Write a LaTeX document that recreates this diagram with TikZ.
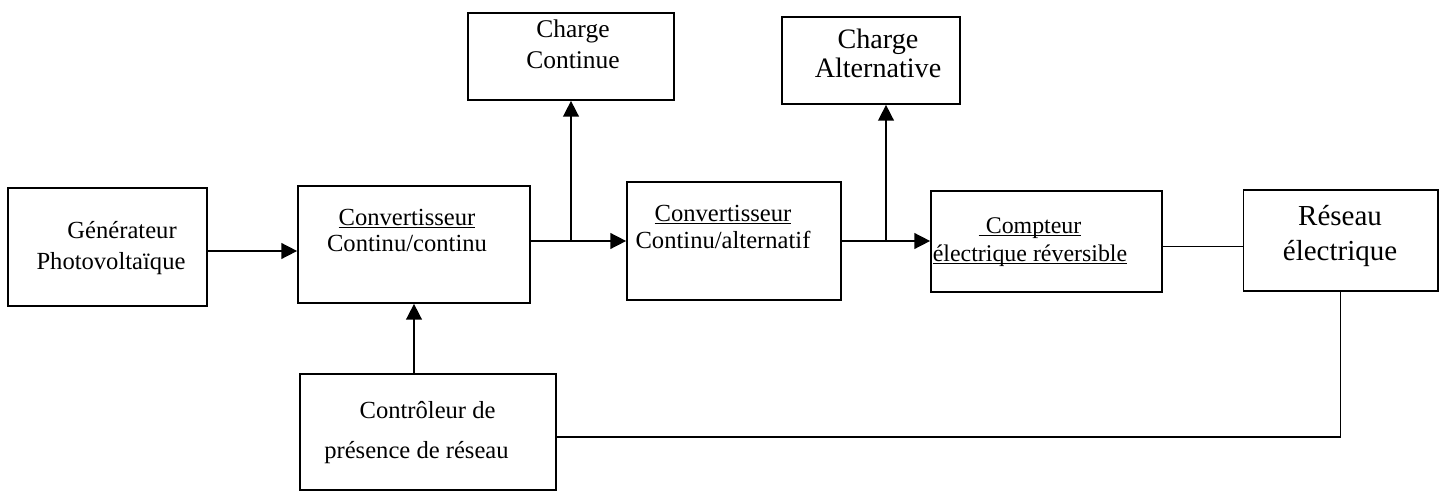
\documentclass[tikz,border=0pt]{standalone}
\usepackage{fontspec}
\setmainfont{Liberation Serif}
\usetikzlibrary{arrows.meta,calc}
\newcommand{\souligne}[1]{\underline{\raisebox{0pt}[\height][0pt]{#1}}}

\begin{document}
\begin{tikzpicture}[x=0.02cm,y=-0.02cm,
  box/.style={draw=black,line width=1pt,inner sep=0pt},
  fleche/.style={-{Triangle[length=9pt,width=9pt]},draw=black,line width=0.9pt},
  fil/.style={draw=black,line width=0.6pt},
  texte/.style={align=center,anchor=base,inner sep=0pt,font=\fontsize{14}{15.3}\selectfont},
]
\useasboundingbox (0,0) rectangle (1446,493);

\node[box,minimum width=3.98cm,minimum height=2.36cm] (gen) at (107.5,247) {};
\node[box,minimum width=4.64cm,minimum height=2.34cm] (conv1) at (414,244.5) {};
\node[box,minimum width=4.28cm,minimum height=2.36cm] (conv2) at (734,241) {};
\node[box,minimum width=4.62cm,minimum height=2.02cm] (cpt) at (1046.5,241.5) {};
\node[box,line width=0.6pt,minimum width=3.9cm,minimum height=2.02cm] (res) at (1340.5,240.5) {};
\node[box,minimum width=4.12cm,minimum height=1.74cm] (chc) at (571,56.5) {};
\node[box,minimum width=3.56cm,minimum height=1.74cm] (cha) at (871,60.5) {};
\node[box,line width=1.2pt,minimum width=5.12cm,minimum height=2.32cm] (ctl) at (428,432) {};

\node[texte,font=\fontsize{14}{17.6}\selectfont] (tgen) at (111,269) {\hspace*{0.9em}Générateur\\Photovoltaïque};
\node[texte] (tconv1) at (407,252) {\souligne{Convertisseur}\\Continu/continu};
\node[texte] (tconv2) at (723,248) {\souligne{Convertisseur}\\Continu/alternatif};
\node[texte,font=\fontsize{13.6}{15.9}\selectfont] (tcpt) at (1030,261) {\souligne{\hspace*{0.3em}Compteur}\\\souligne{électrique réversible}};
\node[texte,font=\fontsize{16.5}{19.8}\selectfont] (tres) at (1340,260) {Réseau\\électrique};
\node[texte,font=\fontsize{14.5}{18.1}\selectfont] (tchc) at (573,69) {Charge\\Continue};
\node[texte,font=\fontsize{16}{17}\selectfont] (tcha) at (878,78) {Charge\\Alternative};
\node[texte,font=\fontsize{14}{22.7}\selectfont] (tctl) at (416.5,458) {\hspace*{0.9em}Contrôleur de\\présence de réseau};

\coordinate (j1) at (chc.south |- conv2.west);
\coordinate (j2) at (886,241);

\draw[fleche] ([yshift=-0.08cm]gen.east) -- ([yshift=-0.08cm]gen.east -| conv1.west);
\draw[fleche] (conv1.east |- conv2.west) -- (conv2.west);
\draw[fleche] (j1) -- (chc.south);
\draw[fleche] (conv2.east) -- (conv2.east -| cpt.west);
\draw[fleche] (j2) -- (j2 |- cha.south);
\draw[fil] ([yshift=-1mm]cpt.east) -- ([yshift=-1mm]cpt.east -| res.west);
\draw[fleche] (ctl.north -| conv1.south) -- (conv1.south);
\draw[fil] ([yshift=-1mm]ctl.east) -| (res.south);

\end{tikzpicture}
\end{document}
